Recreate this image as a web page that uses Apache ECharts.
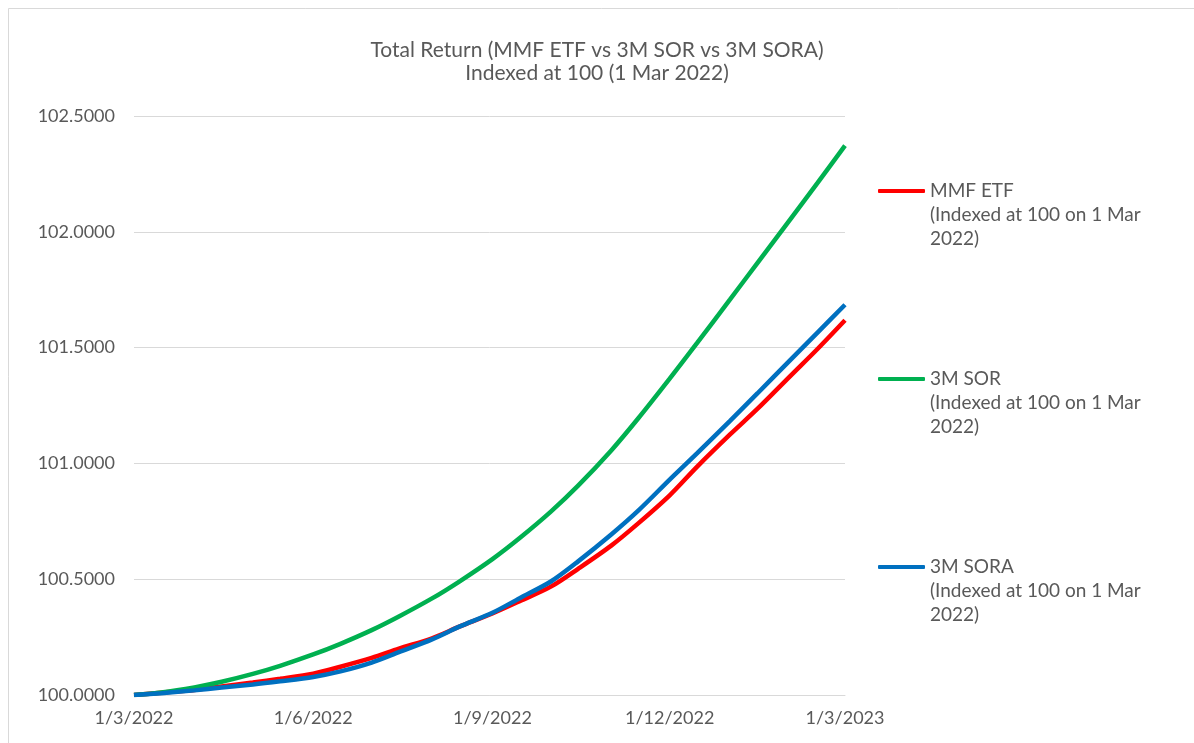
<!DOCTYPE html>
<html>
<head>
<meta charset="utf-8">
<title>Total Return</title>
<script src="https://cdn.jsdelivr.net/npm/echarts@6/dist/echarts.min.js"></script>
<style>
  html, body { margin: 0; padding: 0; background: #fff; }
  #chart { width: 1194px; height: 743px; }
</style>
</head>
<body>
<div id="chart"></div>
<script>
// dates (1st and 15th of each month)
const dates = [
  '2022-03-01', '2022-03-15', '2022-04-01', '2022-04-15', '2022-05-01', '2022-05-15',
  '2022-06-01', '2022-06-15', '2022-07-01', '2022-07-15', '2022-08-01', '2022-08-15',
  '2022-09-01', '2022-09-15', '2022-10-01', '2022-10-15', '2022-11-01', '2022-11-15',
  '2022-12-01', '2022-12-15', '2023-01-01', '2023-01-15', '2023-02-01', '2023-02-15',
  '2023-03-01'
]
const mmfEtf = [
  100.000, 100.010, 100.022, 100.037, 100.054, 100.070,
  100.092, 100.122, 100.160, 100.200, 100.245, 100.295,
  100.352, 100.405, 100.468, 100.545, 100.645, 100.742,
  100.862, 100.985, 101.125, 101.235, 101.378, 101.495,
  101.618
]
const sor3m = [
  100.000, 100.011, 100.033, 100.057, 100.091, 100.126,
  100.175, 100.221, 100.280, 100.339, 100.417, 100.490,
  100.587, 100.678, 100.792, 100.904, 101.056, 101.196,
  101.366, 101.519, 101.708, 101.865, 102.055, 102.212,
  102.372
]
const sora3m = [
  100.000, 100.008, 100.020, 100.032, 100.045, 100.059,
  100.078, 100.102, 100.140, 100.185, 100.240, 100.295,
  100.355, 100.418, 100.490, 100.577, 100.693, 100.797,
  100.930, 101.043, 101.184, 101.302, 101.447, 101.566,
  101.685
]
const xTicks = ['2022-03-01', '2022-06-01', '2022-09-01', '2022-12-01', '2023-03-01']
const legendNote = '(Indexed at 100 on 1 Mar\n2022)'

const font = 'Lato'
const textColor = '#595959'
const gridColor = '#d9d9d9'

// ISO date -> UTC ms, used as x on a value axis
const ms = d => Date.parse(d + 'T00:00:00Z')
const toPairs = (vals) => dates.map((d, i) => [ms(d), vals[i]])
const tickTimes = xTicks.map(ms)

const chart = echarts.init(document.getElementById('chart'))

const option = {
  backgroundColor: '#fff',
  animation: false,
  title: {
    text: 'Total Return (MMF ETF vs 3M SOR vs 3M SORA)\nIndexed at 100 (1 Mar 2022)',
    left: 'center',
    top: 39,
    padding: 0,
    textStyle: {
      fontFamily: font,
      fontSize: 21,
      fontWeight: 'normal',
      color: textColor,
      lineHeight: 23
    }
  },
  // light frame of the chart area
  graphic: [{
    type: 'rect',
    shape: { x: 8.5, y: 8.5, width: 1200, height: 800 },
    style: { fill: 'none', stroke: gridColor, lineWidth: 1 },
    silent: true
  }],
  legend: {
    orient: 'vertical',
    left: 878,
    top: 131,
    padding: 0,
    itemGap: 68,
    itemWidth: 47,
    itemHeight: 4,
    icon: 'roundRect',
    // two blank lines on top so the first line sits level with the icon
    formatter: name => '\n\n' + name + '\n' + legendNote,
    textStyle: {
      fontFamily: font,
      fontSize: 19,
      color: textColor,
      lineHeight: 24
    }
  },
  grid: {
    left: 134,
    right: 349,
    top: 116,
    bottom: 48,
    containLabel: false,
    outerBoundsMode: 'none'
  },
  xAxis: {
    type: 'value',
    min: ms('2022-03-01'),
    max: ms('2023-03-01'),
    axisLine: { show: true, lineStyle: { color: gridColor, width: 1 } },
    axisTick: { show: false },
    splitLine: { show: false },
    axisLabel: {
      customValues: tickTimes,
      margin: 14,
      fontFamily: font,
      fontSize: 18,
      color: textColor,
      formatter: (val) => {
        const d = new Date(val)
        return d.getUTCDate() + '/' + (d.getUTCMonth() + 1) + '/' + d.getUTCFullYear()
      }
    }
  },
  yAxis: {
    type: 'value',
    min: 100,
    max: 102.5,
    interval: 0.5,
    axisLine: { show: false },
    axisTick: { show: false },
    splitLine: { lineStyle: { color: gridColor, width: 1 } },
    axisLabel: {
      margin: 19,
      fontFamily: font,
      fontSize: 18,
      color: textColor,
      formatter: v => v.toFixed(4)
    }
  },
  series: [
    {
      name: 'MMF ETF',
      type: 'line',
      data: toPairs(mmfEtf),
      showSymbol: false,
      smooth: 0.3,
      lineStyle: { width: 4.5, color: '#ff0000' },
      itemStyle: { color: '#ff0000' }
    },
    {
      name: '3M SOR',
      type: 'line',
      data: toPairs(sor3m),
      showSymbol: false,
      smooth: 0.3,
      lineStyle: { width: 4.5, color: '#00b050' },
      itemStyle: { color: '#00b050' }
    },
    {
      name: '3M SORA',
      type: 'line',
      data: toPairs(sora3m),
      showSymbol: false,
      smooth: 0.3,
      lineStyle: { width: 4.5, color: '#0070c0' },
      itemStyle: { color: '#0070c0' }
    }
  ]
}

chart.setOption(option)
</script>
</body>
</html>
